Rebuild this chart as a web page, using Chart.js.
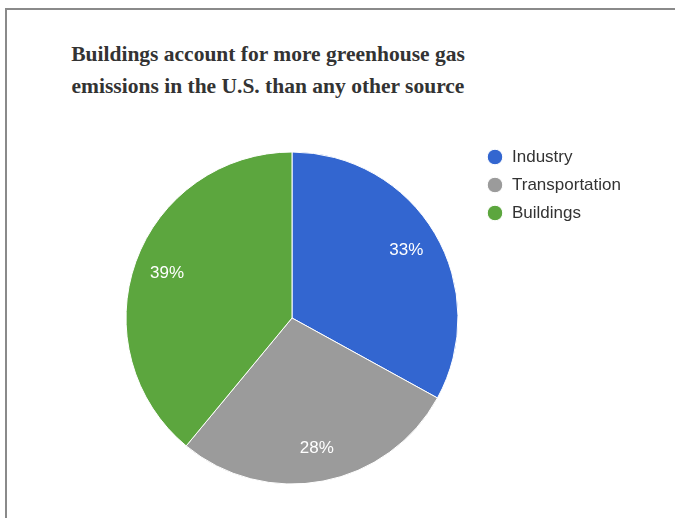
<!DOCTYPE html>
<html>
<head>
<meta charset="utf-8">
<script src="https://cdn.jsdelivr.net/npm/chart.js@4.4.1/dist/chart.umd.min.js"></script>
<style>
  html, body { margin: 0; padding: 0; background: #fff; }
  #wrap { position: relative; width: 675px; height: 518px; overflow: hidden; }
  #frame {
    position: absolute; left: 5px; top: 8px; right: -10px; bottom: -10px;
    border-left: 2px solid #8a8a8a; border-top: 2px solid #8a8a8a;
  }
  #title {
    position: absolute; left: 0; top: 39px; width: 536px;
    text-align: center; color: #333;
    font-family: "Liberation Serif", serif; font-weight: bold;
    font-size: 21.5px; line-height: 31.5px;
  }
  #chart { position: absolute; left: 0; top: 0; }
</style>
</head>
<body>
<div id="wrap">
  <div id="frame"></div>
  <div id="title">Buildings account for more greenhouse gas<br>emissions in the U.S. than any other source</div>
  <canvas id="chart" width="675" height="518"></canvas>
</div>
<script>
  // chart data
  const sources = ['Industry', 'Transportation', 'Buildings'];
  const shares = [33, 28, 39];
  const sliceColors = ['#3366d0', '#9b9b9b', '#5ca63e'];

  // percentage labels drawn inside each slice
  const sliceLabels = {
    id: 'sliceLabels',
    afterDatasetsDraw(chart) {
      const ctx = chart.ctx;
      const meta = chart.getDatasetMeta(0);
      const total = shares.reduce((acc, val) => acc + val, 0);
      ctx.save();
      ctx.font = '17px "Liberation Sans", Arial, sans-serif';
      ctx.fillStyle = '#ffffff';
      ctx.textAlign = 'center';
      ctx.textBaseline = 'middle';
      meta.data.forEach((arc, i) => {
        const p = arc.getProps(['x', 'y', 'startAngle', 'endAngle', 'outerRadius'], true);
        const mid = (p.startAngle + p.endAngle) / 2;
        const r = p.outerRadius * 0.8;
        const pct = Math.round(shares[i] / total * 100) + '%';
        ctx.fillText(pct, p.x + Math.cos(mid) * r, p.y + Math.sin(mid) * r);
      });
      ctx.restore();
    }
  };

  const ctx = document.getElementById('chart').getContext('2d');
  new Chart(ctx, {
    type: 'pie',
    data: {
      labels: sources,
      datasets: [{
        data: shares,
        backgroundColor: sliceColors,
        borderColor: '#ffffff',
        borderWidth: 1
      }]
    },
    options: {
      responsive: false,
      animation: false,
      radius: 166,
      layout: {
        padding: { left: 108.5, right: 49.5, top: 137.5, bottom: 19.5 }
      },
      plugins: {
        legend: {
          position: 'right',
          align: 'start',
          maxWidth: 150,
          labels: {
            usePointStyle: true,
            pointStyle: 'circle',
            boxWidth: 17,
            boxHeight: 11,
            padding: 11,
            color: '#333',
            font: { family: '"Liberation Sans", Arial, sans-serif', size: 17 }
          }
        },
        tooltip: { enabled: false }
      }
    },
    plugins: [sliceLabels]
  });
</script>
</body>
</html>
